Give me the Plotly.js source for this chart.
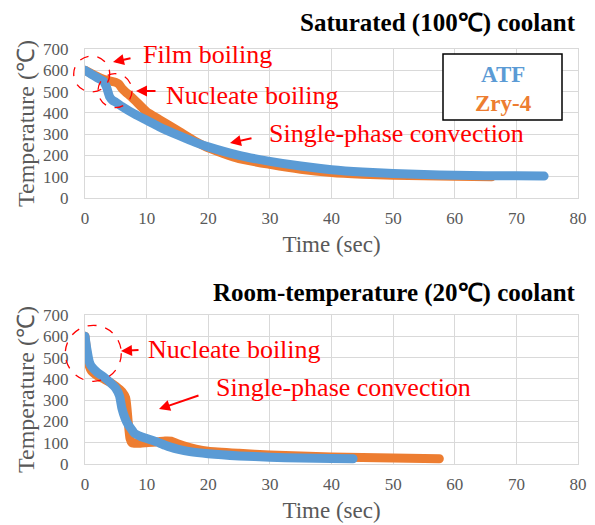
<!DOCTYPE html>
<html>
<head>
<meta charset="utf-8">
<script src="https://cdn.plot.ly/plotly-3.0.1.min.js"></script>
<style>html,body{margin:0;padding:0;background:#fff;}#chart{width:595px;height:525px;}</style>
</head>
<body>
<div id="chart"></div>
<script>
// ---- Data: Saturated (100 C) coolant ----
const satAtfTime = [0, 1, 2, 3, 3.5, 4, 4.5, 5, 6, 8, 10, 12, 15, 18, 20, 25, 30, 35, 40, 45, 50, 55, 60, 65, 70, 74.5];
const satAtfTemp = [600, 582, 565, 548, 520, 475, 458, 450, 430, 395, 365, 335, 296, 260, 240, 200, 172, 150, 133, 122, 115, 110, 107, 105, 104, 103];
const satZryTime = [0, 1, 2, 3, 4, 5, 5.5, 6, 6.5, 7, 8, 10, 12, 15, 18, 20, 25, 30, 35, 40, 45, 50, 55, 60, 66];
const satZryTemp = [600, 585, 570, 558, 550, 543, 535, 515, 500, 488, 462, 405, 370, 318, 265, 235, 185, 158, 135, 120, 112, 107, 104, 102, 100];

// ---- Data: Room-temperature (20 C) coolant ----
const roomAtfTime = [0, 0.3, 0.7, 1, 2, 3, 4, 5, 5.6, 6, 6.5, 7, 7.5, 8, 9, 10, 11, 12, 13, 14, 15, 17, 20, 25, 30, 35, 40, 43.5];
const roomAtfTemp = [600, 540, 480, 460, 430, 410, 385, 355, 320, 260, 215, 185, 165, 145, 130, 120, 110, 100, 88, 78, 70, 58, 48, 38, 32, 28, 26, 25];
const roomZryTime = [0, 0.5, 1, 2, 3, 4, 5, 6, 6.6, 7.0, 7.3, 7.6, 8, 9, 10, 11, 12, 13, 14, 15, 16, 18, 20, 25, 30, 35, 40, 45, 50, 55, 57.5];
const roomZryTemp = [600, 480, 440, 415, 400, 385, 365, 340, 310, 200, 120, 100, 98, 98, 100, 102, 105, 108, 107, 95, 85, 70, 60, 50, 42, 37, 33, 30, 28, 26, 25];

const seriesNames = ['ATF', 'Zry-4'];
const xTitle = 'Time (sec)';
const yTitle = 'Temperature (℃)';
const panelTitles = ['Saturated (100℃) coolant', 'Room-temperature (20℃) coolant'];

const BLUE = '#5B9BD5', ORANGE = '#ED7D31', RED = '#FF0000', GRAY = '#595959';
const SERIF = 'Liberation Serif';
const W = 595, H = 525;

function mk(t, v, color, xa, ya, name) {
  return {
    x: t, y: v, name: name, xaxis: xa, yaxis: ya, type: 'scatter', mode: 'lines',
    line: {color: color, width: 9, shape: 'spline', smoothing: 0.5},
    hoverinfo: 'skip', showlegend: false
  };
}
const traces = [
  mk(satZryTime, satZryTemp, ORANGE, 'x', 'y', seriesNames[1]),
  mk(satAtfTime, satAtfTemp, BLUE, 'x', 'y', seriesNames[0]),
  mk(roomZryTime, roomZryTemp, ORANGE, 'x2', 'y2', seriesNames[1]),
  mk(roomAtfTime, roomAtfTemp, BLUE, 'x2', 'y2', seriesNames[0])
];

const px = x => x / W, py = y => 1 - y / H;

function xax(anchor) {
  return {
    domain: [px(85), px(578)], anchor: anchor, range: [0, 80], dtick: 10,
    showgrid: true, gridcolor: '#d9d9d9', gridwidth: 1,
    showline: true, mirror: true, linecolor: '#d9d9d9', linewidth: 1,
    zeroline: false, ticks: '', ticklabelstandoff: 5,
    tickfont: {family: SERIF, size: 17, color: GRAY},
    title: {text: xTitle, font: {family: SERIF, size: 23, color: GRAY}, standoff: 8}
  };
}
function yax(anchor, dom) {
  return {
    domain: dom, anchor: anchor, range: [0, 700], dtick: 100,
    showgrid: true, gridcolor: '#d9d9d9', gridwidth: 1,
    showline: true, mirror: true, linecolor: '#d9d9d9', linewidth: 1,
    zeroline: false, ticks: '', ticklabelstandoff: 12,
    tickfont: {family: SERIF, size: 17, color: GRAY},
    title: {text: yTitle, font: {family: SERIF, size: 24, color: GRAY}, standoff: 1}
  };
}

function txt(text, x, y, size, color, bold, xanchor) {
  return {
    xref: 'paper', yref: 'paper', x: px(x), y: py(y), xanchor: xanchor || 'left', yanchor: 'middle',
    text: text, showarrow: false,
    font: {family: SERIF, size: size, color: color, weight: bold ? 'bold' : 'normal'}
  };
}
function arrow(tx, ty, hx, hy) {
  return {
    xref: 'paper', yref: 'paper', x: px(hx), y: py(hy), ax: tx - hx, ay: ty - hy,
    text: '', showarrow: true, arrowhead: 2, arrowsize: 1.1, arrowwidth: 2, arrowcolor: RED, standoff: 0
  };
}
function circle(cx, cy, r) {
  return {
    type: 'circle', xref: 'paper', yref: 'paper',
    x0: px(cx - r), x1: px(cx + r), y0: py(cy + r), y1: py(cy - r),
    line: {color: RED, width: 1.3, dash: 'dash'}, layer: 'above'
  };
}

const layout = {
  width: W, height: H, margin: {l: 0, r: 0, t: 0, b: 0},
  font: {family: SERIF},
  paper_bgcolor: '#fff', plot_bgcolor: '#fff', showlegend: false,
  xaxis: xax('y'), yaxis: yax('x', [py(198), py(49)]),
  xaxis2: xax('y2'), yaxis2: yax('x2', [py(464), py(315)]),
  shapes: [
    {type: 'rect', xref: 'paper', yref: 'paper', x0: px(443), x1: px(562), y0: py(120), y1: py(54),
     line: {color: '#000', width: 1.5}, fillcolor: '#fff', layer: 'above'},
    circle(91.7, 74, 18), circle(115, 90.7, 17), circle(93.3, 353.3, 28)
  ],
  annotations: [
    txt(panelTitles[0], 578, 23, 25, '#000', true, 'right'),
    txt(panelTitles[1], 578, 293, 25, '#000', true, 'right'),
    txt(seriesNames[0], 503, 75, 23, BLUE, true, 'center'),
    txt(seriesNames[1], 503, 103, 23, ORANGE, true, 'center'),
    txt('Film boiling', 141, 55, 26, RED),
    txt('Nucleate boiling', 164, 96, 26, RED),
    txt('Single-phase convection', 267, 133, 26, RED),
    txt('Nucleate boiling', 146, 349, 26, RED),
    txt('Single-phase convection', 214, 387, 26, RED),
    arrow(132, 58, 113, 62), arrow(157, 91, 136, 91), arrow(253, 138, 230, 143),
    arrow(140, 350, 121, 351), arrow(200, 395, 159, 409)
  ]
};

Plotly.newPlot('chart', traces, layout, {displayModeBar: false, staticPlot: true}).then(() => {
  document.querySelectorAll('#chart .scatterlayer .js-line').forEach(p => {
    p.style.strokeLinecap = 'round';
    p.style.strokeLinejoin = 'round';
  });
});
</script>
</body>
</html>
